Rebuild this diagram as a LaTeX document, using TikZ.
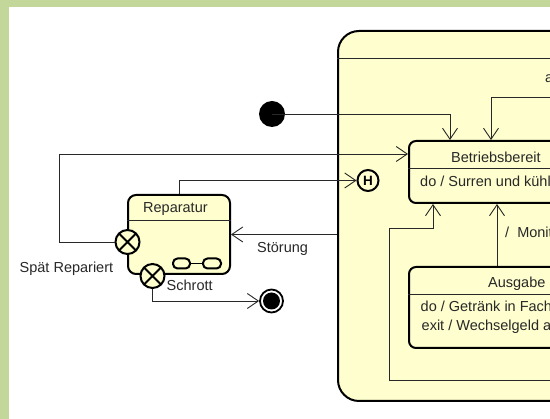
\documentclass[tikz,border=0pt]{standalone}
\usepackage{fontspec}
\setmainfont{Liberation Sans}
\usetikzlibrary{arrows.meta,calc}

\definecolor{framegreen}{RGB}{196,215,155}
\definecolor{statefill}{RGB}{254,254,206}
\definecolor{ink}{RGB}{40,40,40}

\tikzset{
  conn/.style={line width=0.9pt, draw=ink},
  arr/.style={conn, -{Straight Barb[length=11pt,width=15pt,line width=0.9pt]}},
  statebox/.style={draw=black, line width=2pt, fill=statefill, rounded corners=7pt,
                   anchor=north west, inner sep=0pt},
  sep/.style={line width=0.9pt, draw=ink},
  txt/.style={font=\fontsize{14.5}{16}\selectfont, inner sep=0pt, anchor=base west, text=ink},
  exitpt/.style={circle, draw=black, line width=2pt, fill=statefill, minimum size=24pt,
                 inner sep=0pt,
                 path picture={\draw[line width=1.8pt]
                   (path picture bounding box.north west) -- (path picture bounding box.south east)
                   (path picture bounding box.north east) -- (path picture bounding box.south west);}},
  initst/.style={circle, fill=black, minimum size=26pt, inner sep=0pt},
  finalst/.style={circle, draw=black, line width=1.8pt, fill=white, minimum size=23pt, inner sep=0pt,
                  path picture={\fill[black] (path picture bounding box.center) circle (8.5pt);}},
  histst/.style={circle, draw=black, line width=2pt, fill=statefill, minimum size=21pt, inner sep=0pt,
                 font=\fontsize{13.5}{13.5}\selectfont\bfseries},
}

\begin{document}
\begin{tikzpicture}[x=1pt, y=-1pt]
  \useasboundingbox (0,0) rectangle (550,419);
  % page background and frame strips
  \fill[white] (0,0) rectangle (550,419);
  \fill[framegreen] (0,0) rectangle (8.5,419);
  \fill[framegreen] (0,0) rectangle (550,7);

  % composite state
  \node[draw=black, line width=2pt, fill=statefill, rounded corners=21pt, anchor=north west,
        minimum width=380pt, minimum height=370pt, inner sep=0pt] (comp) at (337,30) {};
  \draw[sep] (337,58) -- (717,58);
  \node[txt] (compevt) at (545,83) {a};

  % Betriebsbereit
  \node[statebox, minimum width=260pt, minimum height=62pt] (bb) at (408,140) {};
  \draw[sep] (bb.west |- 0,168) -- (bb.east |- 0,168);
  \node[txt] (bbname) at (451,163) {Betriebsbereit};
  \node[txt] (bbdo) at (420,187) {do / Surren und kühle};

  % Ausgabe
  \node[statebox, minimum width=260pt, minimum height=81pt] (aus) at (408,266) {};
  \draw[sep] (aus.west |- 0,294) -- (aus.east |- 0,294);
  \node[txt] (ausname) at (488,287.5) {Ausgabe};
  \node[txt] (ausdo) at (420.5,312) {do / Getränk in Fach};
  \node[txt] (ausexit) at (421.5,330.5) {exit / Wechselgeld a};

  % Reparatur (submachine state)
  \node[statebox, rounded corners=8pt, minimum width=102pt, minimum height=79pt] (rep) at (127,194) {};
  \draw[sep] (rep.west |- 0,220) -- (rep.east |- 0,220);
  \node[txt] (repname) at (143,212.3) {Reparatur};
  % submachine indicator
  \draw[line width=2pt, rounded corners=4.5pt] (173,258.5) rectangle (190,268.5);
  \draw[line width=2pt, rounded corners=4.5pt] (203,258.5) rectangle (221,268.5);
  \draw[line width=1.6pt] (190,263.5) -- (203,263.5);

  % pseudostates
  \node[initst] (init) at (272,114) {};
  \node[histst] (hist) at (368,180.5) {H};
  \node[exitpt] (spaet) at (127.5,242) {};
  \node[exitpt] (schrott) at (152.5,276) {};
  \node[finalst] (fin) at (271.5,301) {};

  % off-page continuation points
  \coordinate (rin) at (600,97);
  \coordinate (rloop) at (600,380);

  % transitions
  \draw[arr] (init.center) -| ($(bb.north west)+(42,0)$);
  \draw[arr] (rin) -| ($(bb.north west)+(83,0)$);
  \draw[arr] (spaet.west) -- (59,242) |- ($(bb.north west)+(0,14)$);
  \draw[arr] (rep.north) |- (hist.west);
  \draw[arr] (comp.west |- rep.east) -- (rep.east);
  \draw[arr] (schrott.south) |- (fin.west);
  \draw[arr] (rloop) -- (389,380) -- (389,228) -| ($(bb.south west)+(25,0)$);
  \draw[arr] ($(aus.north west)+(89,0)$) -- ($(bb.south west)+(89,0)$);

  % labels
  \node[txt] (lstoer) at (257,253) {Störung};
  \node[txt] (lspaet) at (19.5,272.7) {Spät Repariert};
  \node[txt] (lschrott) at (166.5,291) {Schrott};
  \node[txt] (lmon) at (505,237.3) {/\ \ Monit};
\end{tikzpicture}
\end{document}
